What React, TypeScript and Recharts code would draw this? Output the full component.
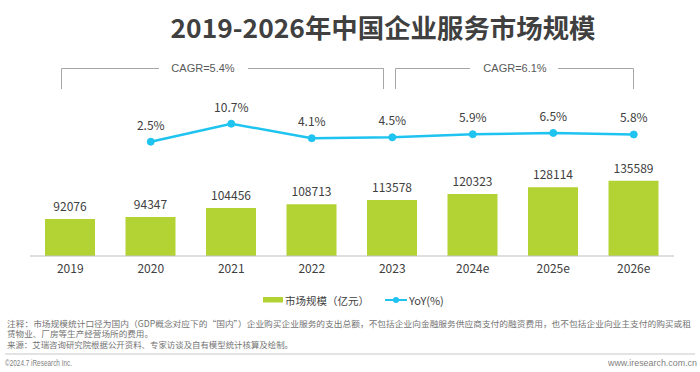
import React from 'react';
import {
  ComposedChart,
  Bar,
  Line,
  XAxis,
  YAxis,
  LabelList,
} from 'recharts';

const years = ['2019', '2020', '2021', '2022', '2023', '2024e', '2025e', '2026e'];
const marketSize = [92076, 94347, 104456, 108713, 113578, 120323, 128114, 135589];
const yoy: (number | null)[] = [null, 2.5, 10.7, 4.1, 4.5, 5.9, 6.5, 5.8];

const noteLines = [
  '注释：市场规模统计口径为国内（GDP概念对应下的“国内”）企业购买企业服务的支出总额，不包括企业向金融服务供应商支付的融资费用，也不包括企业向业主支付的购买或租',
  '赁物业、厂房等生产经营场所的费用。',
  '来源：艾瑞咨询研究院根据公开资料、专家访谈及自有模型统计核算及绘制。',
];

const GREEN = '#b3d234';
const BLUE = '#1fc3f0';
const TEXT = '#404040';
const CJK = '"Noto Sans CJK SC", "Noto Sans", sans-serif';
const LATIN = '"Liberation Sans", Arial, sans-serif';

const chartData = years.map((year, i) => ({
  year,
  size: marketSize[i],
  yoy: yoy[i],
}));

const Overlay: React.FC = () => (
  <svg
    width={700}
    height={372}
    style={{ position: 'absolute', left: 0, top: 0, pointerEvents: 'none' }}
  >
    <text
      x={383}
      y={26}
      textAnchor="middle"
      dominantBaseline="central"
      fontFamily={CJK}
      fontWeight={700}
      fontSize={26}
      fill={TEXT}
      textLength={425}
      lengthAdjust="spacingAndGlyphs"
    >
      2019-2026年中国企业服务市场规模
    </text>

    {/* CAGR brackets */}
    <g stroke="#a6a6a6" strokeWidth={1} fill="none">
      <path d="M61.5 89 V68.5 H159" />
      <path d="M248 68.5 H383.5 V89" />
      <path d="M395.5 89 V68.5 H470" />
      <path d="M558 68.5 H633.5 V89" />
    </g>
    <g fontFamily={LATIN} fontSize={11} fill="#595959" textAnchor="middle" dominantBaseline="central">
      <text x={203} y={68}>CAGR=5.4%</text>
      <text x={515} y={68}>CAGR=6.1%</text>
    </g>

    {/* legend */}
    <rect x={263} y={297} width={20} height={5.5} fill={GREEN} />
    <text x={285} y={300} dominantBaseline="central" fontFamily={CJK} fontSize={10.5} fill={TEXT}>
      市场规模（亿元）
    </text>
    <line x1={385} y1={300} x2={407} y2={300} stroke={BLUE} strokeWidth={2} />
    <circle cx={396} cy={300} r={3} fill={BLUE} />
    <text x={409} y={300} dominantBaseline="central" fontFamily={CJK} fontSize={11} fill={TEXT}>
      YoY(%)
    </text>

    {/* notes */}
    <g fontFamily={CJK} fontSize={8.5} fill="#737373" dominantBaseline="central">
      <text x={7} y={322.5} textLength={684} lengthAdjust="spacingAndGlyphs">{noteLines[0]}</text>
      <text x={7} y={333} textLength={146} lengthAdjust="spacingAndGlyphs">{noteLines[1]}</text>
      <text x={7} y={343.5} textLength={286} lengthAdjust="spacingAndGlyphs">{noteLines[2]}</text>
    </g>

    <line x1={5} y1={354} x2={695} y2={354} stroke="#c8c8c8" strokeWidth={1.2} />
    <g fontFamily={LATIN} fontSize={9} fill="#7f7f7f" dominantBaseline="central">
      <text x={5} y={363} textLength={67} lengthAdjust="spacingAndGlyphs">©2024.7 iResearch Inc.</text>
      <text x={697} y={363} textAnchor="end" textLength={89} lengthAdjust="spacingAndGlyphs">www.iresearch.com.cn</text>
    </g>
  </svg>
);

const App: React.FC = () => {
  return (
    <div
      style={{
        position: 'absolute',
        left: 0,
        top: 0,
        width: 700,
        height: 372,
        background: '#ffffff',
        overflow: 'hidden',
      }}
    >
      <ComposedChart
        width={700}
        height={372}
        data={chartData}
        margin={{ top: 100, right: 26, left: 30, bottom: 96 }}
      >
        <XAxis
          dataKey="year"
          height={20}
          tickLine={false}
          axisLine={{ stroke: '#bfbfbf', strokeWidth: 1 }}
          tick={{ fill: TEXT, fontSize: 12, fontFamily: CJK }}
          interval={0}
        />
        <YAxis yAxisId="size" hide domain={[50000, 227273]} />
        <YAxis yAxisId="yoy" hide orientation="right" domain={[-49.57, 21.5]} />
        <Bar yAxisId="size" dataKey="size" fill={GREEN} barSize={50} isAnimationActive={false}>
          <LabelList
            dataKey="size"
            position="top"
            offset={8}
            fill={TEXT}
            fontSize={12}
            fontFamily={CJK}
          />
        </Bar>
        <Line
          yAxisId="yoy"
          dataKey="yoy"
          type="linear"
          stroke={BLUE}
          strokeWidth={2.5}
          dot={{ r: 3.5, fill: BLUE, stroke: BLUE, strokeWidth: 1 }}
          activeDot={false}
          connectNulls={false}
          isAnimationActive={false}
        >
          <LabelList
            dataKey="yoy"
            position="top"
            offset={12}
            fill={TEXT}
            fontSize={12}
            fontFamily={CJK}
            formatter={(v: any) => (v == null ? '' : `${v}%`)}
          />
        </Line>
      </ComposedChart>
      <Overlay />
    </div>
  );
};

export default App;
